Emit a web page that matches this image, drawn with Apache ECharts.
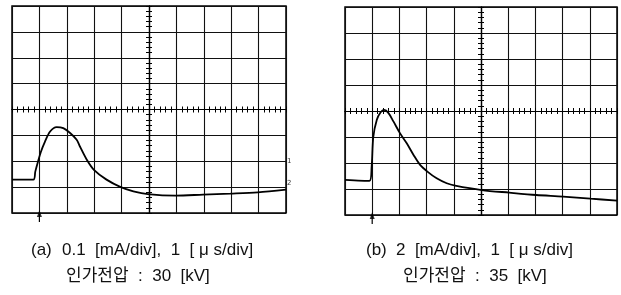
<!DOCTYPE html>
<html><head><meta charset="utf-8">
<script src="https://cdn.jsdelivr.net/npm/echarts@6/dist/echarts.min.js"></script>
<style>html,body{margin:0;padding:0;background:#fff}#c{width:621px;height:295px}</style>
</head><body><div id="c"></div>
<script>
// Trace values in screen divisions, centred on the graticule (x: -5..5, y: -4..4)
const traceA = [[-5,-2.71],[-4.22,-2.71],[-4.15,-2.4],[-4.06,-2.05],[-3.95,-1.65],[-3.8,-1.25],[-3.61,-0.85],[-3.37,-0.68],[-3.13,-0.72],[-2.88,-0.91],[-2.64,-1.17],[-2.52,-1.43],[-2.27,-1.94],[-2.01,-2.33],[-1.55,-2.71],[-1.03,-3.0],[-0.57,-3.16],[-0.04,-3.27],[0.97,-3.33],[1.97,-3.29],[2.97,-3.25],[3.97,-3.2],[5,-3.1]];
const traceB = [[-5,-2.65],[-4.1,-2.69],[-4.02,-2.14],[-3.96,-1.0],[-3.83,-0.34],[-3.69,-0.05],[-3.56,0.04],[-3.4,-0.08],[-3.22,-0.4],[-2.98,-0.85],[-2.73,-1.24],[-2.48,-1.69],[-2.24,-2.07],[-1.97,-2.33],[-1.63,-2.59],[-1.26,-2.78],[-0.95,-2.87],[0.03,-3.04],[1.04,-3.14],[2.03,-3.23],[3.02,-3.29],[4.02,-3.37],[5,-3.45]];
const triggerX = [-4, -4];
const tagA = '(a)', tagB = '(b)';
const captionA = ['0.1  [mA/div],  1  [ \u03BC s/div]', '인가전압  :  30  [kV]'];
const captionB = ['2  [mA/div],  1  [ \u03BC s/div]', '인가전압  :  35  [kV]'];
const chLabelsA = [['1', -2.0], ['2', -2.85]];

const chart = echarts.init(document.getElementById('c'), null, {renderer:'canvas'});
const grids = [
  {left:12, top:6, width:274, height:207, show:true, borderColor:'#000', borderWidth:1.5},
  {left:345, top:7, width:272, height:208, show:true, borderColor:'#000', borderWidth:1.5}
];
function xAxes(g){
  return [
    {type:'value', gridIndex:g, min:-5, max:5, interval:1,
     axisLabel:{show:false},
     axisLine:{show:true, onZero:true, lineStyle:{color:'#000', width:1.2}},
     axisTick:{show:true, length:3, lineStyle:{color:'#000'}},
     minorTick:{show:true, splitNumber:5, length:3, lineStyle:{color:'#000'}},
     splitLine:{show:true, lineStyle:{color:'#111', width:1.1}}},
    {type:'value', gridIndex:g, min:-5, max:5, interval:1, position:'bottom',
     axisLabel:{show:false},
     axisLine:{show:true, onZero:true, lineStyle:{color:'#000', width:1.2}},
     axisTick:{show:true, inside:true, length:3, lineStyle:{color:'#000'}},
     minorTick:{show:true, splitNumber:5, length:3, lineStyle:{color:'#000'}},
     splitLine:{show:false}}
  ];
}
function yAxes(g){
  return [
    {type:'value', gridIndex:g, min:-4, max:4, interval:1,
     axisLabel:{show:false},
     axisLine:{show:true, onZero:true, lineStyle:{color:'#000', width:1.2}},
     axisTick:{show:true, length:3, lineStyle:{color:'#000'}},
     minorTick:{show:true, splitNumber:5, length:3, lineStyle:{color:'#000'}},
     splitLine:{show:true, lineStyle:{color:'#111', width:1.1}}},
    {type:'value', gridIndex:g, min:-4, max:4, interval:1, position:'left',
     axisLabel:{show:false},
     axisLine:{show:true, onZero:true, lineStyle:{color:'#000', width:1.2}},
     axisTick:{show:true, inside:true, length:3, lineStyle:{color:'#000'}},
     minorTick:{show:true, splitNumber:5, length:3, lineStyle:{color:'#000'}},
     splitLine:{show:false}}
  ];
}
function trace(data, xi, yi){
  return {type:'line', xAxisIndex:xi, yAxisIndex:yi, data:data, smooth:0.3,
    symbol:'none', lineStyle:{color:'#000', width:1.8}, z:5, silent:true};
}
function trigger(x, xi, yi){
  return [
    {type:'line', xAxisIndex:xi, yAxisIndex:yi, data:[[x,-4.35],[x,-4]], clip:false,
     symbol:'none', lineStyle:{color:'#000', width:1.2}, silent:true},
    {type:'scatter', xAxisIndex:xi, yAxisIndex:yi, data:[[x,-4.02]], clip:false,
     symbol:'triangle', symbolSize:[5,7], itemStyle:{color:'#000'}, silent:true}
  ];
}
const series = [
  trace(traceA, 0, 0),
  trace(traceB, 2, 2),
  ...trigger(triggerX[0], 0, 0),
  ...trigger(triggerX[1], 2, 2),
  {type:'scatter', xAxisIndex:0, yAxisIndex:0, clip:false, symbolSize:0,
   data: chLabelsA.map(d => ({value:[5, d[1]], label:{show:true, formatter:d[0]}})),
   label:{position:'right', distance:1, fontSize:7, color:'#000', fontFamily:'DejaVu Sans'}, silent:true}
];
const fontL = '17px "Liberation Sans", "Noto Sans CJK KR", sans-serif';
const fontK = '17px "Liberation Sans", "Noto Sans CJK KR", sans-serif';
function txt(x, y, s, f){
  return {type:'text', x:x, y:y, style:{text:s, font:f, fill:'#111', verticalAlign:'middle', align:'left'}};
}
chart.setOption({
  animation:false,
  backgroundColor:'#fff',
  grid: grids,
  xAxis: [...xAxes(0), ...xAxes(1)],
  yAxis: [...yAxes(0), ...yAxes(1)],
  series: series,
  graphic: [
    txt(31, 250, tagA, fontL),
    txt(62, 250, captionA[0], fontL),
    txt(66, 276, captionA[1], fontK),
    txt(366, 250, tagB, fontL),
    txt(396, 250, captionB[0], fontL),
    txt(403, 276, captionB[1], fontK)
  ]
});
</script></body></html>
